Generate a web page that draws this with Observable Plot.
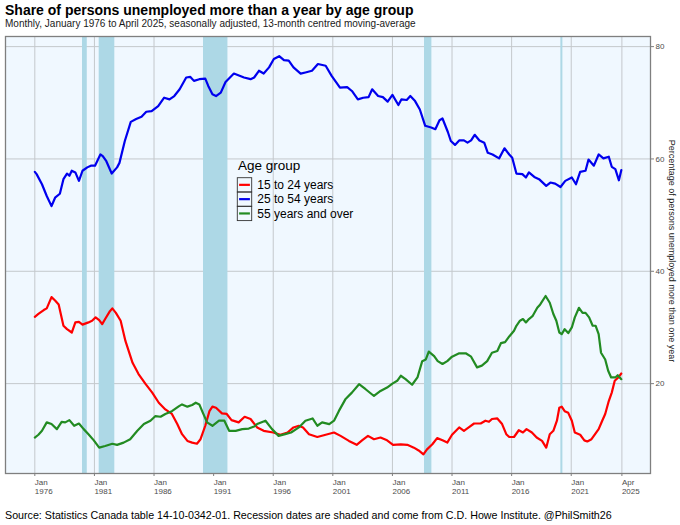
<!DOCTYPE html>
<html>
<head>
<meta charset="utf-8">
<script src="https://cdn.jsdelivr.net/npm/d3@7"></script>
<script src="https://cdn.jsdelivr.net/npm/@observablehq/plot@0.6"></script>
<style>
  html, body { margin: 0; padding: 0; background: #ffffff; }
  body { width: 680px; height: 525px; position: relative; overflow: hidden;
         font-family: "Liberation Sans", Arial, Helvetica, sans-serif; color: #000; }
  #title { position: absolute; left: 5px; top: 3px; font-size: 14px; font-weight: bold; line-height: 1; white-space: nowrap; }
  #subtitle { position: absolute; left: 5px; top: 19px; font-size: 10px; line-height: 1; white-space: nowrap; color: #1a1a1a; }
  #chart { position: absolute; left: 0; top: 33px; }
  #legend { position: absolute; left: 230px; top: 152px; }
  #caption { position: absolute; left: 5px; top: 510px; font-size: 10.7px; line-height: 1; white-space: nowrap; }
</style>
</head>
<body>
<div id="title">Share of persons unemployed more than a year by age group</div>
<div id="subtitle">Monthly, January 1976 to April 2025, seasonally adjusted, 13-month centred moving-average</div>
<div id="chart"></div>
<div id="legend"></div>
<div id="caption">Source: Statistics Canada table 14-10-0342-01. Recession dates are shaded and come from C.D. Howe Institute. @PhilSmith26</div>
<script>
// ---- Data ----
const groups = ["15 to 24 years", "25 to 54 years", "55 years and over"];
const groupColors = ["#FF0000", "#0000EE", "#228B22"];

const youthYears = [1976.0,1976.3,1976.75,1977.0,1977.4,1977.7,1978.0,1978.4,1978.7,1979.1,1979.4,1979.7,1980.0,1980.5,1980.8,1981.1,1981.4,1981.65,1981.9,1982.3,1982.5,1982.8,1983.2,1983.6,1984.2,1984.7,1985.3,1985.85,1986.4,1986.95,1987.5,1987.95,1988.35,1988.8,1989.2,1989.6,1989.9,1990.3,1990.65,1990.9,1991.2,1991.7,1992.1,1992.5,1993.1,1993.6,1994.1,1994.65,1995.2,1996.0,1996.6,1997.2,1997.7,1998.15,1998.5,1999.0,1999.7,2000.4,2001.1,2001.65,2002.35,2003.0,2003.45,2003.95,2004.45,2005.0,2005.55,2006.05,2006.7,2007.25,2007.8,2008.2,2008.6,2008.9,2009.35,2009.75,2010.2,2010.6,2011.0,2011.6,2012.0,2012.4,2012.85,2013.4,2013.8,2014.1,2014.35,2014.8,2015.2,2015.55,2015.8,2016.2,2016.6,2016.95,2017.25,2017.7,2018.1,2018.55,2018.9,2019.2,2019.5,2019.8,2020.0,2020.2,2020.45,2020.75,2021.05,2021.3,2021.75,2022.1,2022.35,2022.7,2023.0,2023.3,2023.6,2023.85,2024.15,2024.4,2024.65,2024.95,2025.2];
const youthValues = [31.9,32.4,33.1,33.4,35.4,34.8,34.1,30.3,29.7,29.1,30.9,31.0,30.5,30.9,31.2,31.8,31.3,30.6,31.5,32.9,33.4,32.6,31.2,27.6,23.7,21.7,19.9,18.4,16.6,15.4,14.6,12.8,11.0,9.8,9.5,9.3,10.1,12.5,15.1,15.9,15.7,14.7,14.6,13.5,13.1,14.1,13.7,12.2,11.6,11.3,10.9,11.3,12.2,12.5,12.2,11.0,10.5,10.9,11.3,10.7,9.8,9.1,9.9,10.7,10.1,10.4,9.9,9.1,9.2,9.1,8.6,8.1,7.4,8.3,9.2,10.3,9.9,9.5,10.9,12.2,11.6,12.2,12.9,12.9,13.4,13.2,13.7,13.8,12.8,11.0,10.5,10.5,11.7,11.3,11.9,11.3,10.4,9.8,8.6,11.0,11.6,13.4,15.7,15.9,15.1,14.8,13.4,11.3,10.9,9.9,9.7,10.1,11.0,11.9,13.4,14.6,16.9,18.4,20.5,21.1,21.8];

const primeYears = [1976.0,1976.15,1976.6,1977.0,1977.4,1977.7,1978.1,1978.4,1978.7,1978.9,1979.1,1979.4,1979.7,1980.0,1980.4,1980.7,1981.05,1981.5,1981.7,1982.0,1982.45,1982.9,1983.1,1983.55,1984.05,1984.5,1984.95,1985.35,1985.8,1986.35,1986.85,1987.3,1987.7,1988.15,1988.7,1989.05,1989.35,1989.8,1990.3,1990.55,1990.9,1991.2,1991.6,1992.0,1992.7,1993.55,1994.1,1994.4,1994.8,1995.2,1995.65,1996.05,1996.5,1996.9,1997.3,1997.7,1998.3,1998.7,1999.25,1999.75,2000.4,2000.9,2001.6,2002.2,2002.6,2003.1,2003.55,2004.0,2004.3,2004.8,2005.2,2005.6,2006.0,2006.5,2006.75,2007.2,2007.5,2007.9,2008.3,2008.75,2009.25,2009.6,2009.95,2010.2,2010.65,2010.9,2011.25,2011.6,2012.0,2012.3,2012.6,2012.9,2013.3,2013.7,2014.0,2014.4,2014.95,2015.4,2015.8,2016.05,2016.4,2016.9,2017.2,2017.45,2017.9,2018.3,2018.9,2019.25,2019.65,2020.1,2020.5,2021.05,2021.4,2021.75,2022.2,2022.45,2022.9,2023.3,2023.7,2024.15,2024.4,2024.7,2025.0,2025.2];
const primeValues = [57.7,57.3,55.5,53.4,51.6,53.1,53.8,56.4,57.4,57.0,57.9,57.6,56.1,57.9,58.5,58.8,58.8,60.8,60.5,59.6,57.4,58.5,59.3,63.2,66.6,67.1,67.5,68.4,68.5,69.4,70.9,70.6,71.2,72.4,74.5,74.6,73.9,74.2,74.3,73.0,71.5,71.2,71.8,73.7,75.2,74.5,74.2,74.5,75.7,75.2,76.3,77.8,78.3,77.6,77.5,76.3,75.2,75.4,75.7,76.9,76.6,74.8,72.7,72.8,72.1,70.6,70.9,71.0,72.4,71.2,71.0,70.2,71.4,69.6,70.6,70.5,71.2,70.3,68.8,65.9,65.6,65.3,66.9,67.2,64.8,63.2,62.5,63.3,63.3,62.9,63.3,64.3,63.3,62.9,61.1,60.8,60.1,61.9,60.8,60.2,57.4,57.3,56.7,57.6,56.8,56.4,55.2,55.8,55.6,55.0,56.1,56.7,55.5,57.7,57.9,59.9,58.8,60.8,60.1,60.4,58.6,58.2,56.2,58.0];

const olderYears = [1976.0,1976.3,1976.6,1977.0,1977.4,1977.85,1978.25,1978.55,1978.9,1979.3,1979.7,1980.1,1980.5,1980.95,1981.4,1981.9,1982.5,1982.9,1983.45,1984.0,1984.6,1985.15,1985.7,1986.1,1986.55,1986.95,1987.5,1988.1,1988.35,1988.8,1989.2,1989.5,1989.8,1990.1,1990.45,1990.9,1991.45,1991.9,1992.3,1992.85,1993.4,1993.95,1994.45,1994.65,1995.35,1995.9,1996.45,1997.0,1997.5,1998.15,1998.7,1999.3,1999.7,2000.1,2000.7,2001.1,2001.5,2002.05,2002.6,2003.2,2003.75,2004.45,2005.0,2005.55,2006.0,2006.4,2006.7,2007.1,2007.65,2008.1,2008.5,2008.8,2009.05,2009.5,2009.8,2010.2,2010.6,2011.0,2011.6,2012.15,2012.6,2013.1,2013.5,2013.95,2014.35,2014.8,2015.1,2015.45,2015.8,2016.2,2016.4,2016.7,2016.95,2017.2,2017.45,2017.75,2018.15,2018.4,2018.85,2019.2,2019.5,2019.75,2020.0,2020.2,2020.45,2020.75,2021.05,2021.3,2021.65,2021.95,2022.2,2022.5,2022.8,2023.05,2023.3,2023.5,2023.85,2024.1,2024.35,2024.7,2024.9,2025.2];
const olderValues = [10.4,10.9,11.6,13.1,12.8,11.9,13.2,13.1,13.5,12.5,12.9,11.9,11.0,9.9,8.6,8.9,9.3,9.1,9.5,10.1,11.6,12.8,13.4,14.2,14.1,14.6,15.1,16.0,16.3,15.9,16.2,16.6,16.3,14.8,13.1,12.5,13.4,13.4,11.6,11.6,11.9,12.0,12.4,12.8,13.4,11.9,10.7,11.0,11.3,12.2,13.4,13.8,12.5,13.1,12.8,13.4,15.1,17.2,18.4,19.9,19.0,17.8,18.7,19.3,20.0,20.5,21.4,20.8,19.8,21.1,24.0,24.3,25.7,24.9,24.0,23.5,24.0,24.8,25.4,25.4,24.8,22.9,23.2,24.0,25.5,25.8,27.2,27.4,28.4,29.4,30.3,31.2,31.5,30.9,31.5,32.0,33.5,34.1,35.6,34.4,32.4,31.2,29.1,28.8,29.7,29.0,30.0,31.8,33.5,32.6,32.6,31.8,30.3,30.3,28.8,25.5,24.3,22.3,21.1,21.1,21.5,20.8];

// Recession periods (decimal years), C.D. Howe Institute
const recessionStarts = [1980.0, 1981.40, 1990.15, 2008.69, 2020.13];
const recessionEnds   = [1980.40, 1982.71, 1992.20, 2009.31, 2020.30];

// Axis ticks
const xTickValues = [1976, 1981, 1986, 1991, 1996, 2001, 2006, 2011, 2016, 2021, 2025.25];
const xTickLabels = ["Jan\n1976","Jan\n1981","Jan\n1986","Jan\n1991","Jan\n1996","Jan\n2001","Jan\n2006","Jan\n2011","Jan\n2016","Jan\n2021","Apr\n2025"];
const yTickValues = [20, 40, 60, 80];
const yAxisLabel = "Percentage of persons unemployed more than one year";
const legendTitle = "Age group";

// ---- Build tables ----
const seriesYears = [youthYears, primeYears, olderYears];
const seriesValues = [youthValues, primeValues, olderValues];
const data = [];
groups.forEach((g, gi) => {
  seriesYears[gi].forEach((yr, i) => data.push({group: g, year: yr, value: seriesValues[gi][i]}));
});
const recessions = recessionStarts.map((s, i) => ({start: s, end: recessionEnds[i]}));
const xLabelMap = new Map(xTickValues.map((v, i) => [v, xTickLabels[i]]));

const fontFamily = "'Liberation Sans', Arial, Helvetica, sans-serif";

const chart = Plot.plot({
  width: 680,
  height: 470,
  marginTop: 3,
  marginBottom: 30,
  marginLeft: 5,
  marginRight: 30,
  style: {fontFamily, background: "transparent", overflow: "visible"},
  x: {domain: [1973.54, 2027.65], axis: null},
  y: {domain: [4.0, 81.8], axis: null},
  color: {domain: groups, range: groupColors},
  marks: [
    Plot.frame({fill: "#F0F8FF", stroke: null}),
    Plot.gridX(xTickValues, {stroke: "#c4c8cc", strokeOpacity: 1, strokeWidth: 1}),
    Plot.gridY(yTickValues, {stroke: "#c4c8cc", strokeOpacity: 1, strokeWidth: 1}),
    Plot.rectX(recessions, {x1: "start", x2: "end", fill: "#ADD8E6"}),
    Plot.line(data, {x: "year", y: "value", z: "group", stroke: "group", strokeWidth: 2.2, strokeLinejoin: "round", strokeLinecap: "round"}),
    Plot.frame({stroke: "#7f7f7f", strokeWidth: 1.3}),
    Plot.axisX(xTickValues, {
      tickSize: 3, tickPadding: 2, textAnchor: "start",
      tickFormat: d => xLabelMap.get(d),
      fontSize: 8, lineHeight: 1.12,
      stroke: "#7f7f7f", fill: "#4d4d4d", label: null
    }),
    Plot.axisY(yTickValues, {
      anchor: "right", tickSize: 3, tickPadding: 2,
      fontSize: 8, stroke: "#7f7f7f", fill: "#4d4d4d", label: null
    }),
    Plot.text([yAxisLabel], {frameAnchor: "right", textAnchor: "middle", dx: 21, dy: -4, rotate: 90, fontSize: 9, fill: "#1a1a1a"})
  ]
});
document.getElementById("chart").appendChild(chart);

// ---- Legend (inside the panel, as in the reference) ----
const leg = d3.select("#legend").append("svg")
  .attr("width", 150).attr("height", 72)
  .style("font-family", fontFamily)
  .style("overflow", "visible");
leg.append("text").attr("x", 8).attr("y", 18).attr("font-size", 13.5).attr("fill", "#000").text(legendTitle);
const keyH = 14.3, keyW = 14.4, keyX = 7.3, keyY0 = 25.7;
groups.forEach((g, i) => {
  const y0 = keyY0 + i * keyH;
  leg.append("rect").attr("x", keyX).attr("y", y0).attr("width", keyW).attr("height", keyH)
    .attr("fill", "none").attr("stroke", "#333").attr("stroke-width", 0.9);
  leg.append("line").attr("x1", keyX + 1.8).attr("x2", keyX + keyW - 1.8)
    .attr("y1", y0 + keyH / 2).attr("y2", y0 + keyH / 2)
    .attr("stroke", groupColors[i]).attr("stroke-width", 2.2);
  leg.append("text").attr("x", 27.3).attr("y", y0 + keyH / 2 + 4.2)
    .attr("font-size", 12).attr("fill", "#000").text(g);
});
</script>
</body>
</html>
